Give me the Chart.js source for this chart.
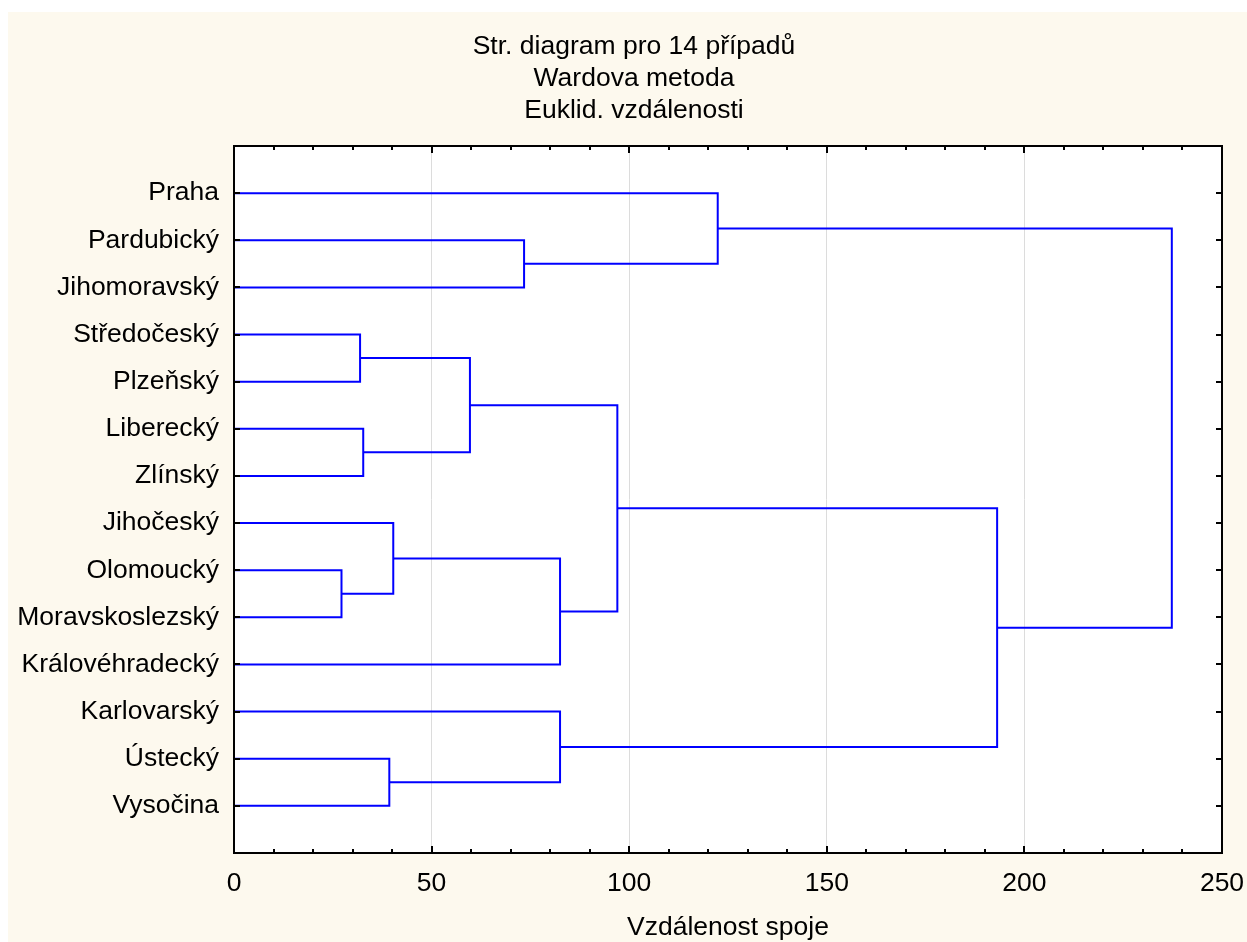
<!DOCTYPE html>
<html><head><meta charset="utf-8">
<script src="https://cdn.jsdelivr.net/npm/chart.js@4/dist/chart.umd.min.js"></script>
<style>
html,body{margin:0;padding:0;background:#fff;width:1247px;height:942px;overflow:hidden}
#wrap{position:absolute;left:8px;top:12px;width:1239px;height:930px;background:#fdf9ee}
canvas{display:block}
</style></head><body><div id="wrap"><canvas id="c" width="1239" height="930"></canvas></div>
<script>
// ---- data ----
const leaves = ['Praha','Pardubický','Jihomoravský','Středočeský','Plzeňský','Liberecký','Zlínský','Jihočeský','Olomoucký','Moravskoslezský','Královéhradecký','Karlovarský','Ústecký','Vysočina'];
// merge steps: node ids 0..13 are leaves, 14.. are clusters created in order
const mergeA = [8, 3, 5, 12, 7, 15, 1, 18, 11, 19, 0, 23, 24];
const mergeB = [9, 4, 6, 13, 14, 16, 2, 10, 17, 21, 20, 22, 25];
const mergeDist = [27.2, 31.9, 32.7, 39.3, 40.3, 59.7, 73.4, 82.5, 82.5, 97.0, 122.4, 193.1, 237.3];
const xTicks = [0, 50, 100, 150, 200, 250];
const titleLines = ['Str. diagram pro 14 případů', 'Wardova metoda', 'Euklid. vzdálenosti'];
const xTitle = 'Vzdálenost spoje';

// ---- build dendrogram link datasets ----
const FONT = 'Liberation Sans, Arial, Helvetica, sans-serif';
const FS = 26.5;
const nodeY = leaves.map((_, i) => i + 1);
const nodeH = leaves.map(() => 0);
const datasets = [];
mergeA.forEach((a, k) => {
  const b = mergeB[k], h = mergeDist[k];
  datasets.push({
    data: [{x: nodeH[a], y: nodeY[a]}, {x: h, y: nodeY[a]}, {x: h, y: nodeY[b]}, {x: nodeH[b], y: nodeY[b]}],
    showLine: true, borderColor: '#0000ff', borderWidth: 2, pointRadius: 0, fill: false, tension: 0
  });
  nodeY.push((nodeY[a] + nodeY[b]) / 2);
  nodeH.push(h);
});

const decor = {
  id: 'decor',
  beforeDraw(chart) {
    const {ctx, chartArea: {left, right, top, bottom}} = chart;
    ctx.save();
    ctx.fillStyle = '#ffffff';
    ctx.fillRect(left, top, right - left, bottom - top);
    // titles
    ctx.fillStyle = '#000';
    ctx.font = FS + 'px ' + FONT;
    ctx.textAlign = 'center';
    ctx.textBaseline = 'middle';
    titleLines.forEach((t, i) => ctx.fillText(t, 626, 35 + i * 32));
    ctx.restore();
  },
  afterDatasetsDraw(chart) {
    const {ctx, chartArea: {left, right, top, bottom}, scales: {x, y}} = chart;
    ctx.save();
    ctx.strokeStyle = '#000';
    ctx.lineWidth = 2;
    ctx.beginPath();
    for (let v = 0; v <= 250; v += 10) {
      const px = Math.round(x.getPixelForValue(v));
      const len = v % 50 === 0 ? 7 : 4;
      ctx.moveTo(px, bottom); ctx.lineTo(px, bottom - len);
      ctx.moveTo(px, top); ctx.lineTo(px, top + len);
    }
    leaves.forEach((_, i) => {
      const py = Math.round(y.getPixelForValue(i + 1));
      ctx.moveTo(left, py); ctx.lineTo(left + 6, py);
      ctx.moveTo(right, py); ctx.lineTo(right - 6, py);
    });
    ctx.stroke();
    ctx.strokeRect(left, top, right - left, bottom - top);
    ctx.restore();
  }
};

new Chart(document.getElementById('c'), {
  type: 'scatter',
  data: {datasets},
  options: {
    responsive: false,
    animation: false,
    layout: {padding: {left: 0, right: 25, top: 134, bottom: 0}},
    plugins: {legend: {display: false}, tooltip: {enabled: false}, title: {display: false}},
    scales: {
      x: {
        type: 'linear', position: 'bottom', min: 0, max: 250,
        afterBuildTicks: s => { s.ticks = xTicks.map(v => ({value: v})); },
        afterFit: s => { s.height = 89; s.paddingLeft = 0; s.paddingRight = 0; },
        ticks: {color: '#000', font: {family: FONT, size: FS}, padding: 15, maxRotation: 0, autoSkip: false},
        grid: {
          drawTicks: false, lineWidth: 1,
          color: c => (c.tick && (c.tick.value === 0 || c.tick.value === 250)) ? 'rgba(0,0,0,0)' : '#dcdcdc'
        },
        border: {display: false},
        title: {display: true, text: xTitle, color: '#000', font: {family: FONT, size: FS, lineHeight: 1.05}, padding: {top: 0, bottom: 0}}
      },
      y: {
        type: 'linear', position: 'left', min: 0, max: 15, reverse: true,
        afterBuildTicks: s => { s.ticks = leaves.map((_, i) => ({value: i + 1})); },
        afterFit: s => { s.width = 226; s.paddingTop = 0; s.paddingBottom = 0; },
        ticks: {color: '#000', font: {family: FONT, size: FS}, padding: 7, autoSkip: false,
          callback: v => leaves[v - 1] ?? ''},
        grid: {display: false},
        border: {display: false}
      }
    }
  },
  plugins: [decor]
});
</script>
</body></html>
